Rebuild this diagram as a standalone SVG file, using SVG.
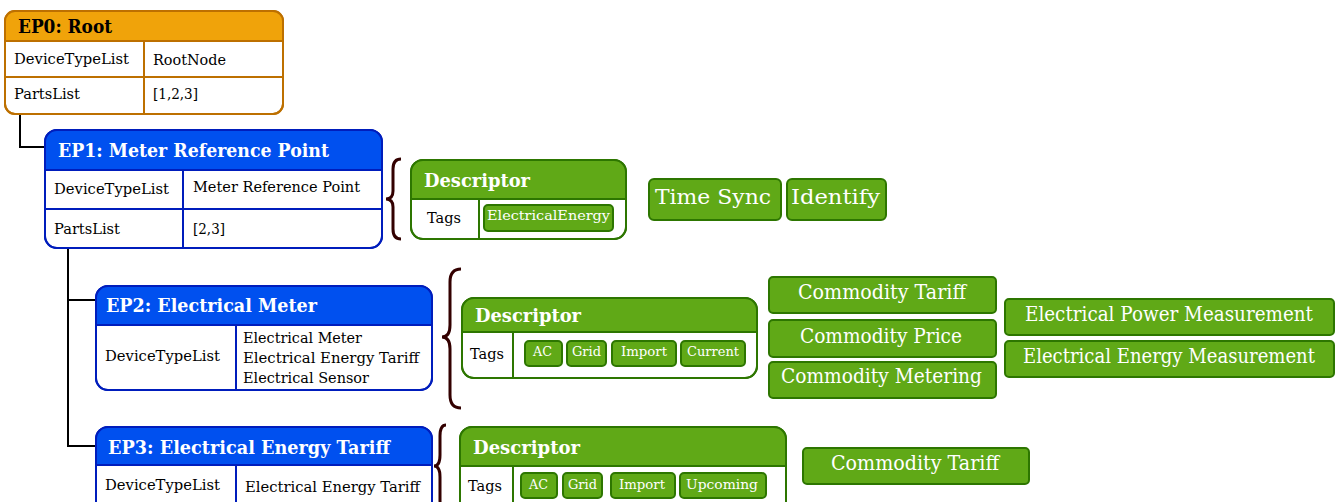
<svg xmlns="http://www.w3.org/2000/svg" width="1339" height="502" viewBox="0 0 1339 502">
<style>
text{font-family:"DejaVu Serif","Liberation Serif",serif;}
.bg{fill:#fff;}
.o{stroke:#BD7000;stroke-width:2;}
.b{stroke:#001DBC;stroke-width:2;}
.g{stroke:#2D7600;stroke-width:2;}
.of{fill:#F0A30A;}
.bf{fill:#0050EF;}
.gf{fill:#60A917;}
.nf{fill:none;}
.h{font-weight:bold;font-size:18px;}
.hw{fill:#fff;}
.hk{fill:#000;}
.r{font-size:14px;fill:#000;}
.chip{fill:#60A917;stroke:#2D7600;stroke-width:2;}
.ct{font-size:13.5px;fill:#fff;}
.big{font-size:20px;fill:#fff;text-anchor:middle;}
.brace{fill:none;stroke:#330000;stroke-width:3;}
.conn{fill:none;stroke:#000;stroke-width:2;}
</style>

<g id="connectors">
<path class="conn" d="M20 114 V147 H45"/>
<path class="conn" d="M68 248 V300 H96 M68 300 V446 H96"/>
</g>

<g id="ep0">
<rect class="bg o" x="5" y="11" width="278" height="103" rx="10"/>
<path class="of" d="M5 41 V21 Q5 11 15 11 H273 Q283 11 283 21 V41 Z"/>
<path class="nf o" d="M5 41 H283 M5 77 H283 M144 41 V114"/>
<rect class="nf o" x="5" y="11" width="278" height="103" rx="10"/>
<text class="h hk" x="18" y="33" textLength="94" lengthAdjust="spacingAndGlyphs">EP0: Root</text>
<text class="r" x="14" y="64" textLength="115" lengthAdjust="spacingAndGlyphs">DeviceTypeList</text>
<text class="r" x="153" y="65" textLength="73" lengthAdjust="spacingAndGlyphs">RootNode</text>
<text class="r" x="14" y="99" textLength="66" lengthAdjust="spacingAndGlyphs">PartsList</text>
<text class="r" x="153" y="99" textLength="45" lengthAdjust="spacingAndGlyphs">[1,2,3]</text>
</g>

<g id="ep1">
<rect class="bg b" x="45" y="130" width="337" height="118" rx="12"/>
<path class="bf" d="M45 170 V142 Q45 130 57 130 H370 Q382 130 382 142 V170 Z"/>
<path class="nf b" d="M45 170 H382 M45 209 H382 M183 170 V248"/>
<rect class="nf b" x="45" y="130" width="337" height="118" rx="12"/>
<text class="h hw" x="58" y="157" textLength="271" lengthAdjust="spacingAndGlyphs">EP1: Meter Reference Point</text>
<text class="r" x="54" y="194" textLength="115" lengthAdjust="spacingAndGlyphs">DeviceTypeList</text>
<text class="r" x="193" y="192" textLength="167" lengthAdjust="spacingAndGlyphs">Meter Reference Point</text>
<text class="r" x="54" y="234" textLength="66" lengthAdjust="spacingAndGlyphs">PartsList</text>
<text class="r" x="193" y="234" textLength="32" lengthAdjust="spacingAndGlyphs">[2,3]</text>
</g>

<g id="brace1"><path class="brace" d="M401 159 Q393 159 393 169 V191 Q393 199 386 199 Q393 199 393 207 V229 Q393 239 401 239"/></g>

<g id="desc1">
<rect class="bg g" x="411" y="160" width="215" height="79" rx="12"/>
<path class="gf" d="M411 199 V172 Q411 160 423 160 H614 Q626 160 626 172 V199 Z"/>
<path class="nf g" d="M411 199 H626 M479 199 V239"/>
<rect class="nf g" x="411" y="160" width="215" height="79" rx="12"/>
<text class="h hw" x="424" y="187" textLength="106" lengthAdjust="spacingAndGlyphs">Descriptor</text>
<text class="r" x="427" y="223" textLength="34" lengthAdjust="spacingAndGlyphs">Tags</text>
<rect class="chip" x="484" y="205" width="129" height="26" rx="4"/>
<text class="ct" x="487" y="220" textLength="123" lengthAdjust="spacingAndGlyphs">ElectricalEnergy</text>
</g>

<g id="timesync"><rect class="chip" x="649" y="179" width="132" height="41" rx="5"/><text class="big" x="713" y="204" font-size="24" textLength="116" lengthAdjust="spacingAndGlyphs">Time Sync</text></g>
<g id="identify"><rect class="chip" x="787" y="179" width="99" height="41" rx="5"/><text class="big" x="835.5" y="204" font-size="24" textLength="89" lengthAdjust="spacingAndGlyphs">Identify</text></g>

<g id="ep2">
<rect class="bg b" x="96" y="286" width="336" height="104" rx="12"/>
<path class="bf" d="M96 325 V298 Q96 286 108 286 H420 Q432 286 432 298 V325 Z"/>
<path class="nf b" d="M96 325 H432 M236 325 V390"/>
<rect class="nf b" x="96" y="286" width="336" height="104" rx="12"/>
<text class="h hw" x="106" y="312" textLength="211" lengthAdjust="spacingAndGlyphs">EP2: Electrical Meter</text>
<text class="r" x="105" y="361" textLength="115" lengthAdjust="spacingAndGlyphs">DeviceTypeList</text>
<text class="r" x="243" y="343" textLength="119" lengthAdjust="spacingAndGlyphs">Electrical Meter</text>
<text class="r" x="243" y="363" textLength="176" lengthAdjust="spacingAndGlyphs">Electrical Energy Tariff</text>
<text class="r" x="243" y="383" textLength="126" lengthAdjust="spacingAndGlyphs">Electrical Sensor</text>
</g>

<g id="brace2"><path class="brace" d="M461 269 Q450 269 450 282 V325 Q450 337 442 337 Q450 337 450 349 V395 Q450 408 461 408"/></g>

<g id="desc2">
<rect class="bg g" x="462" y="298" width="295" height="80" rx="12"/>
<path class="gf" d="M462 332 V310 Q462 298 474 298 H745 Q757 298 757 310 V332 Z"/>
<path class="nf g" d="M462 332 H757 M513 332 V378"/>
<rect class="nf g" x="462" y="298" width="295" height="80" rx="12"/>
<text class="h hw" x="475" y="322" textLength="106" lengthAdjust="spacingAndGlyphs">Descriptor</text>
<text class="r" x="470" y="359" textLength="34" lengthAdjust="spacingAndGlyphs">Tags</text>
<rect class="chip" x="525" y="341" width="37" height="25" rx="4"/><text class="ct" x="533" y="356" textLength="19" lengthAdjust="spacingAndGlyphs">AC</text>
<rect class="chip" x="567" y="341" width="39" height="25" rx="4"/><text class="ct" x="572" y="356" textLength="29" lengthAdjust="spacingAndGlyphs">Grid</text>
<rect class="chip" x="612" y="341" width="64" height="25" rx="4"/><text class="ct" x="621" y="356" textLength="46" lengthAdjust="spacingAndGlyphs">Import</text>
<rect class="chip" x="681" y="341" width="64" height="25" rx="4"/><text class="ct" x="687" y="356" textLength="52" lengthAdjust="spacingAndGlyphs">Current</text>
</g>

<g id="ctariff1"><rect class="chip" x="769" y="277" width="227" height="36" rx="4"/><text class="big" x="882" y="299" textLength="168" lengthAdjust="spacingAndGlyphs">Commodity Tariff</text></g>
<g id="cprice"><rect class="chip" x="769" y="320" width="227" height="37" rx="4"/><text class="big" x="881" y="343" textLength="162" lengthAdjust="spacingAndGlyphs">Commodity Price</text></g>
<g id="cmetering"><rect class="chip" x="769" y="362" width="227" height="36" rx="4"/><text class="big" x="881.5" y="383" textLength="201" lengthAdjust="spacingAndGlyphs">Commodity Metering</text></g>
<g id="epm"><rect class="chip" x="1005" y="299" width="329" height="36" rx="4"/><text class="big" x="1169" y="321" font-size="18.5" textLength="288" lengthAdjust="spacingAndGlyphs">Electrical Power Measurement</text></g>
<g id="eem"><rect class="chip" x="1005" y="341" width="329" height="36" rx="4"/><text class="big" x="1169" y="363" font-size="18.5" textLength="292" lengthAdjust="spacingAndGlyphs">Electrical Energy Measurement</text></g>

<g id="ep3">
<rect class="bg b" x="96" y="427" width="336" height="100" rx="12"/>
<path class="bf" d="M96 465 V439 Q96 427 108 427 H420 Q432 427 432 439 V465 Z"/>
<path class="nf b" d="M96 465 H432 M236 465 V527"/>
<rect class="nf b" x="96" y="427" width="336" height="100" rx="12"/>
<text class="h hw" x="108" y="454" textLength="282" lengthAdjust="spacingAndGlyphs">EP3: Electrical Energy Tariff</text>
<text class="r" x="105" y="490" textLength="115" lengthAdjust="spacingAndGlyphs">DeviceTypeList</text>
<text class="r" x="245" y="492" textLength="175" lengthAdjust="spacingAndGlyphs">Electrical Energy Tariff</text>
</g>

<g id="brace3"><path class="brace" d="M446 425 Q440 425 440 436 V455 Q440 466 434 466 Q440 466 440 477 V500 Q440 511 446 511"/></g>

<g id="desc3">
<rect class="bg g" x="460" y="427" width="326" height="100" rx="12"/>
<path class="gf" d="M460 466 V439 Q460 427 472 427 H774 Q786 427 786 439 V466 Z"/>
<path class="nf g" d="M460 466 H786 M513 466 V527"/>
<rect class="nf g" x="460" y="427" width="326" height="100" rx="12"/>
<text class="h hw" x="473" y="454" textLength="107" lengthAdjust="spacingAndGlyphs">Descriptor</text>
<text class="r" x="468" y="491" textLength="34" lengthAdjust="spacingAndGlyphs">Tags</text>
<rect class="chip" x="521" y="473" width="36" height="25" rx="4"/><text class="ct" x="529" y="489" textLength="19" lengthAdjust="spacingAndGlyphs">AC</text>
<rect class="chip" x="563" y="473" width="39" height="25" rx="4"/><text class="ct" x="568" y="489" textLength="29" lengthAdjust="spacingAndGlyphs">Grid</text>
<rect class="chip" x="611" y="473" width="64" height="25" rx="4"/><text class="ct" x="619" y="489" textLength="46" lengthAdjust="spacingAndGlyphs">Import</text>
<rect class="chip" x="680" y="473" width="86" height="25" rx="4"/><text class="ct" x="686" y="489" textLength="72" lengthAdjust="spacingAndGlyphs">Upcoming</text>
</g>

<g id="ctariff2"><rect class="chip" x="803" y="448" width="226" height="36" rx="4"/><text class="big" x="915" y="470" textLength="168" lengthAdjust="spacingAndGlyphs">Commodity Tariff</text></g>
</svg>
